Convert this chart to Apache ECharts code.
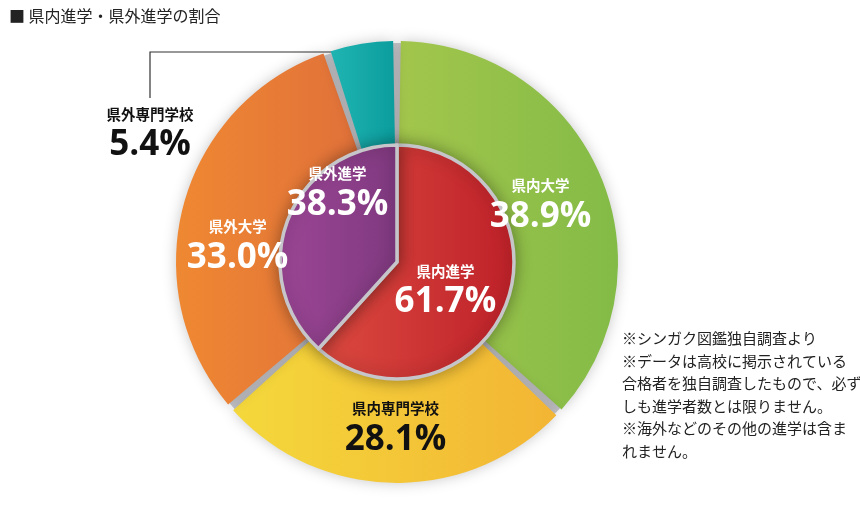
<!DOCTYPE html>
<html>
<head>
<meta charset="utf-8">
<script src="https://cdn.jsdelivr.net/npm/echarts@6/dist/echarts.min.js"></script>
<style>
html,body{margin:0;padding:0;background:#fff;}
#main{width:860px;height:520px;}
</style>
</head>
<body>
<div id="main"></div>
<script>
// 内側：県内/県外
var innerNames = ['県内進学', '県外進学'];
var innerValues = [61.7, 38.3];
// 外側：進学先の内訳
var outerNames = ['県内大学', '県内専門学校', '県外大学', '県外専門学校'];
var outerValues = [38.9, 28.1, 33.0, 5.4];

var noteLines = [
	'※シンガク図鑑独自調査より',
	'※データは高校に掲示されている',
	'合格者を独自調査したもので、必ず',
	'しも進学者数とは限りません。',
	'※海外などのその他の進学は含ま',
	'れません。'
];

// 色（左→右のグラデーション）
var innerColors = [['#dc4a40', '#be2129'], ['#9c4695', '#7f397f']];
var outerColors = [['#a3c64c', '#83bb47'], ['#f4d83b', '#f3b534'], ['#ef8832', '#e0703a'], ['#1fb4b2', '#0b9d9d']];
var innerTextColors = ['#fff', '#fff'];
var outerTextColors = ['#fff', '#111', '#fff', '#111'];

var CX = 397, CY = 262, R = 221, RIN = 117;
var JP = '"Noto Sans CJK JP", "Noto Sans", sans-serif';
var NUM = '"Open Sans", "Noto Sans", sans-serif';

function grad(c) {
	return {type: 'linear', x: 0, y: 0, x2: 1, y2: 0, colorStops: [{offset: 0, color: c[0]}, {offset: 1, color: c[1]}]};
}

function fmt(p) {
	return '{n|' + p.name + '}\n{v|' + p.value.toFixed(1) + '%}';
}

function richOf(col) {
	return {
		n: {fontFamily: JP, fontWeight: 'bold', fontSize: 14.5, lineHeight: 22, color: col},
		v: {fontFamily: NUM, fontWeight: 'bold', fontSize: 35, lineHeight: 40, color: col}
	};
}

var innerData = [];
for (var i = 0; i < innerNames.length; i++) {
	innerData.push({
		name: innerNames[i], value: innerValues[i],
		itemStyle: {color: grad(innerColors[i])},
		label: {rich: richOf(innerTextColors[i])}
	});
}
var outerData = [];
for (var j = 0; j < outerNames.length; j++) {
	var d = {
		name: outerNames[j], value: outerValues[j],
		itemStyle: {color: grad(outerColors[j])},
		label: {rich: richOf(outerTextColors[j])}
	};
	if (j == 3) {//県外専門学校は外側にラベル
		d.label.position = 'outside';
		d.labelLine = {show: true, lineStyle: {color: '#333', width: 1.2}};
	}
	outerData.push(d);
}

// ラベルの微調整
var innerShift = [[-9, 7], [-2, -46]];
var outerShift = [[-4, 8], [1, 6], [-4, 27]];

var myChart = echarts.init(document.getElementById('main'));
var option = {
	backgroundColor: '#fff',
	animation: false,
	title: {
		text: '■ 県内進学・県外進学の割合',
		left: 4, top: 3,
		textStyle: {fontFamily: JP, fontSize: 16, fontWeight: 'normal', color: '#222'}
	},
	graphic: [{
		type: 'text', left: 622, top: 327,
		style: {text: noteLines.join('\n'), font: '15px ' + JP, lineHeight: 22.6, fill: '#222'}
	}],
	series: [
		{//隙間の灰色
			type: 'pie', silent: true, center: [CX, CY], radius: [100, R - 2],
			label: {show: false}, labelLine: {show: false},
			itemStyle: {color: '#c9c9cd'},
			data: [{value: 1, name: ''}]
		},
		{
			type: 'pie', center: [CX, CY], radius: [95, R], startAngle: 90, padAngle: 2,
			emphasis: {disabled: true},
			itemStyle: {shadowBlur: 14, shadowColor: 'rgba(0,0,0,0.22)'},
			label: {show: true, position: 'inside', formatter: fmt},
			labelLine: {show: false},
			labelLayout: function (p) {
				if (p.dataIndex == 3) {
					return {
						x: CX - 247, y: CY - 128, align: 'center', verticalAlign: 'middle',
						labelLinePoints: [[CX - 35, CY - 210], [CX - 247, CY - 210], [CX - 247, CY - 164]]
					};
				}
				return {dx: outerShift[p.dataIndex][0], dy: outerShift[p.dataIndex][1]};
			},
			data: outerData
		},
		{
			type: 'pie', center: [CX, CY], radius: [0, RIN], startAngle: 90,
			emphasis: {disabled: true},
			itemStyle: {borderColor: '#c6c6ca', borderWidth: 3.5, shadowBlur: 16, shadowColor: 'rgba(0,0,0,0.35)'},
			label: {show: true, position: 'inside', formatter: fmt},
			labelLine: {show: false},
			labelLayout: function (p) {
				return {dx: innerShift[p.dataIndex][0], dy: innerShift[p.dataIndex][1]};
			},
			data: innerData
		}
	]
};
myChart.setOption(option);
</script>
</body>
</html>
